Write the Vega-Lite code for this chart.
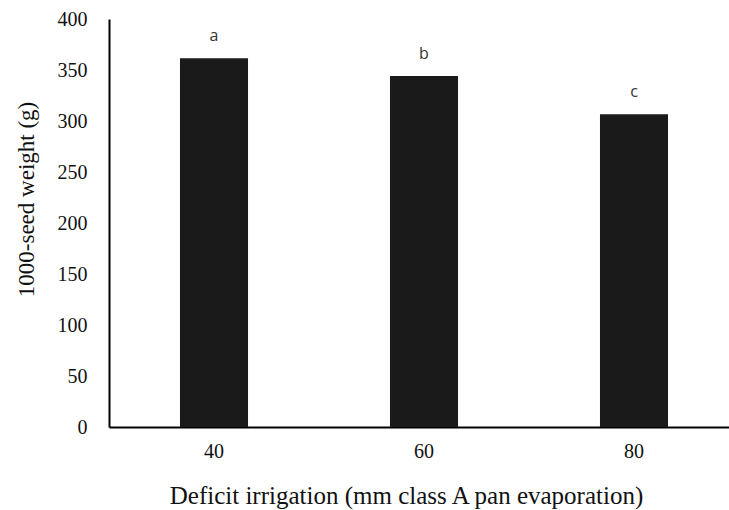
{
  "$schema": "https://vega.github.io/schema/vega-lite/v6.json",
  "width": 619,
  "height": 408,
  "autosize": {"type": "none"},
  "padding": {"left": 109, "top": 19, "right": 1, "bottom": 83},
  "background": "white",
  "config": {
    "view": {"stroke": null},
    "axis": {"labelFont": "Liberation Serif", "titleFont": "Liberation Serif"}
  },
  "data": {
    "values": [
      {"irrigation": "40", "weight": 361.5, "letter": "a"},
      {"irrigation": "60", "weight": 344.2, "letter": "b"},
      {"irrigation": "80", "weight": 306.6, "letter": "c"}
    ]
  },
  "encoding": {
    "x": {
      "field": "irrigation",
      "type": "nominal",
      "sort": null,
      "scale": {"range": [0, 630], "paddingInner": 0.676, "paddingOuter": 0.338},
      "axis": {
        "title": "Deficit irrigation (mm class A pan evaporation)",
        "labelAngle": 0,
        "labelFont": "Liberation Serif",
        "labelFontSize": 20,
        "labelColor": "#111",
        "labelPadding": 14,
        "ticks": false,
        "domainColor": "#000",
        "domainWidth": 2,
        "titleFont": "Liberation Serif",
        "titleFontSize": 25,
        "titleFontWeight": "normal",
        "titleColor": "#111",
        "titleX": 297,
        "titleY": 76,
        "titleBaseline": "alphabetic"
      }
    },
    "y": {
      "field": "weight",
      "type": "quantitative",
      "scale": {"domain": [0, 400]},
      "axis": {
        "title": "1000-seed weight (g)",
        "values": [0, 50, 100, 150, 200, 250, 300, 350, 400],
        "grid": false,
        "ticks": false,
        "labelFont": "Liberation Serif",
        "labelFontSize": 20,
        "labelColor": "#111",
        "labelPadding": 22,
        "domainColor": "#000",
        "domainWidth": 2,
        "titleFont": "Liberation Serif",
        "titleFontSize": 23,
        "titleFontWeight": "normal",
        "titleColor": "#111",
        "titleX": -83,
        "titleY": 180,
        "titleBaseline": "middle",
        "titleAngle": 270
      }
    }
  },
  "layer": [
    {"mark": {"type": "bar", "color": "#1a1a1a"}},
    {
      "mark": {"type": "text", "dy": -22, "font": "Open Sans", "fontSize": 16, "color": "#333", "baseline": "middle"},
      "encoding": {"text": {"field": "letter"}}
    }
  ]
}
